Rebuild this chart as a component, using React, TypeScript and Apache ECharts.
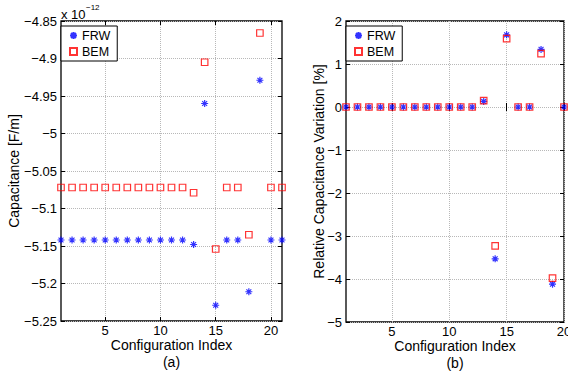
import React, { useEffect, useRef } from 'react';
import * as echarts from 'echarts';

// (a) Capacitance [F/m] x 1e-12
const idxA = [1, 2, 3, 4, 5, 6, 7, 8, 9, 10, 11, 12, 13, 14, 15, 16, 17, 18, 19, 20, 21];
const frwA = [-5.142, -5.142, -5.142, -5.142, -5.142, -5.142, -5.142, -5.142, -5.142, -5.142, -5.142, -5.142, -5.148, -4.960, -5.229, -5.142, -5.142, -5.211, -4.929, -5.142, -5.142];
const bemA = [-5.072, -5.072, -5.072, -5.072, -5.072, -5.072, -5.072, -5.072, -5.072, -5.072, -5.072, -5.072, -5.079, -4.905, -5.154, -5.072, -5.072, -5.135, -4.866, -5.072, -5.072];

// (b) Relative capacitance variation [%]
const idxB = [1, 2, 3, 4, 5, 6, 7, 8, 9, 10, 11, 12, 13, 14, 15, 16, 17, 18, 19, 20];
const frwB = [0, 0, 0, 0, 0, 0, 0, 0, 0, 0, 0, 0, 0.13, -3.53, 1.68, 0, 0, 1.34, -4.12, 0];
const bemB = [0, 0, 0, 0, 0, 0, 0, 0, 0, 0, 0, 0, 0.15, -3.23, 1.59, 0, 0, 1.24, -3.98, 0];

const xTicks = [5, 10, 15, 20];
const seriesNames = ['FRW', 'BEM'];

const FONT = '"Liberation Sans", Arial, Helvetica, sans-serif';
const ASTERISK = 'path://M0,-10L0,10M-10,0L10,0M-7,-7L7,7M-7,7L7,-7';

const fmt = (v: number) => String(parseFloat(v.toFixed(2))).replace('-', '\u2212');

const tick = { show: true, inside: true, length: 4, lineStyle: { color: '#000', width: 1 } };
const grid = { type: 'dotted' as const, color: '#b8b8b8', width: 1 };

function xAxes(gridIndex: number, max: number, name: string) {
  return [
    {
      type: 'value', gridIndex, min: 1, max, position: 'bottom',
      name, nameLocation: 'middle', nameGap: 15, nameMoveOverlap: false,
      nameTextStyle: { fontFamily: FONT, fontSize: 14, color: '#000', lineHeight: 17 },
      axisLine: { show: false },
      axisTick: { ...tick, customValues: xTicks },
      axisLabel: { customValues: xTicks, fontFamily: FONT, fontSize: 13, color: '#000', margin: 3, formatter: fmt },
      splitLine: { show: true, lineStyle: grid },
    },
    {
      type: 'value', gridIndex, min: 1, max, position: 'top',
      axisLine: { show: false },
      axisTick: { ...tick, customValues: xTicks },
      axisLabel: { show: false, customValues: xTicks },
      splitLine: { show: false },
    },
  ];
}

function yAxes(gridIndex: number, min: number, max: number, interval: number, name: string, nameGap: number) {
  return [
    {
      type: 'value', gridIndex, min, max, interval, position: 'left',
      name, nameLocation: 'middle', nameGap, nameMoveOverlap: false,
      nameTextStyle: { fontFamily: FONT, fontSize: 14, color: '#000' },
      axisLine: { show: false },
      axisTick: tick,
      axisLabel: { fontFamily: FONT, fontSize: 13, color: '#000', margin: 4, formatter: fmt },
      splitLine: { show: true, lineStyle: grid },
    },
    {
      type: 'value', gridIndex, min, max, interval, position: 'right',
      axisLine: { show: false },
      axisTick: tick,
      axisLabel: { show: false },
      splitLine: { show: false },
    },
  ];
}

function scatter(name: string, xi: number, yi: number, xs: number[], ys: number[]) {
  const isFrw = name === 'FRW';
  return {
    type: 'scatter', name, xAxisIndex: xi, yAxisIndex: yi,
    data: xs.map((x, i) => [x, ys[i]]),
    symbol: isFrw ? ASTERISK : 'rect',
    symbolSize: isFrw ? 7 : 6.5,
    itemStyle: isFrw
      ? { color: '#0000ff', borderColor: '#0000ff', borderWidth: 1.2 }
      : { color: 'rgba(0,0,0,0)', borderColor: '#ff0000', borderWidth: 1.2 },
  };
}

function legend(left: number) {
  return {
    data: seriesNames, orient: 'vertical', left, top: 26,
    padding: [3, 7, 3, 8], itemGap: 3, itemWidth: 7, itemHeight: 7,
    borderColor: '#000', borderWidth: 1, backgroundColor: '#fff',
    textStyle: { fontFamily: FONT, fontSize: 12.5, color: '#000' },
    selectedMode: false,
  };
}

export default function App() {
  const ref = useRef<HTMLDivElement>(null);
  useEffect(() => {
    document.body.style.margin = '0';
    if (!ref.current) return;
    const chart = echarts.init(ref.current, undefined, { renderer: 'svg' });
    chart.setOption({
      animation: false,
      backgroundColor: '#fff',
      textStyle: { fontFamily: FONT },
      grid: [
        { left: 61, right: 286, top: 21, bottom: 53, outerBoundsMode: 'none', containLabel: false, show: true, borderColor: '#000', borderWidth: 1.3, backgroundColor: '#fff' },
        { left: 346, right: 4, top: 21, bottom: 52, outerBoundsMode: 'none', containLabel: false, show: true, borderColor: '#000', borderWidth: 1.3, backgroundColor: '#fff' },
      ],
      xAxis: [...xAxes(0, 21, 'Configuration Index\n(a)'), ...xAxes(1, 20, 'Configuration Index\n(b)')],
      yAxis: [
        ...yAxes(0, -5.25, -4.85, 0.05, 'Capacitance [F/m]', 40),
        ...yAxes(1, -5, 2, 1, 'Relative Capacitance Variation [%]', 20),
      ],
      legend: [legend(61), legend(346)],
      graphic: [
        { type: 'text', x: 61, y: 14, style: { text: 'x 10', font: `13px ${FONT}`, fill: '#000', verticalAlign: 'middle' } },
        { type: 'text', x: 86, y: 7, style: { text: '\u221212', font: `8px ${FONT}`, fill: '#000', verticalAlign: 'middle' } },
      ],
      series: [
        scatter('FRW', 0, 0, idxA, frwA),
        scatter('BEM', 0, 0, idxA, bemA),
        scatter('FRW', 2, 2, idxB, frwB),
        scatter('BEM', 2, 2, idxB, bemB),
      ],
    });
    return () => chart.dispose();
  }, []);
  return <div ref={ref} style={{ width: 568, height: 374 }} />;
}
